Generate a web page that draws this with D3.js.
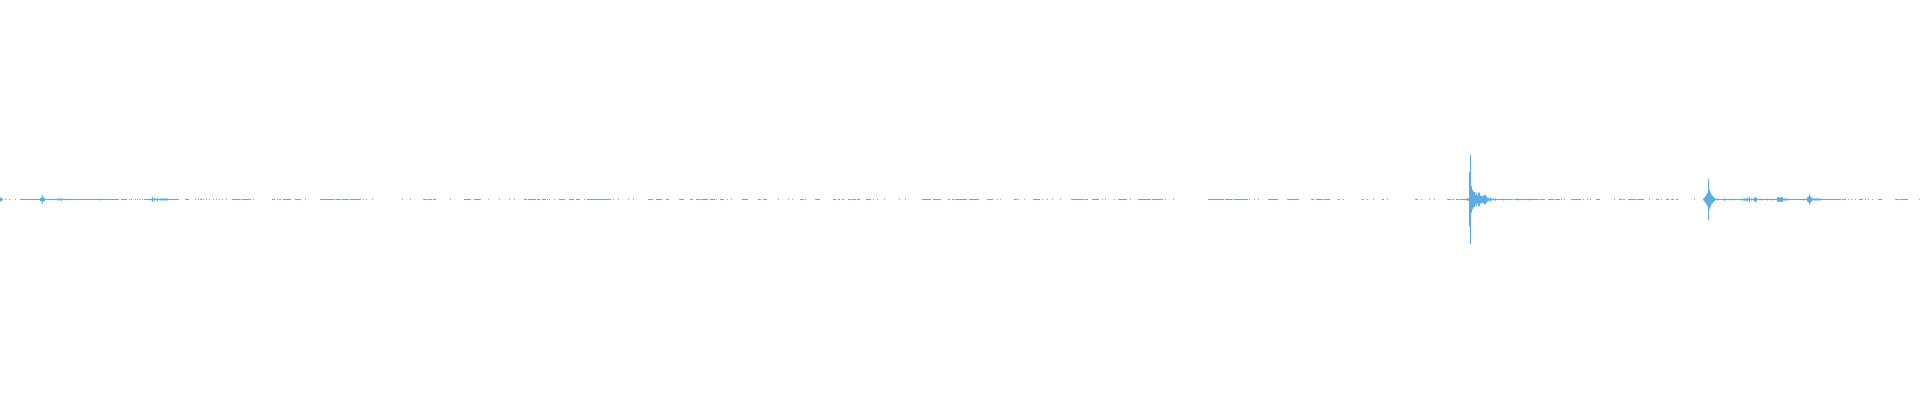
<!DOCTYPE html>
<html>
<head>
<meta charset="utf-8">
<script src="https://cdn.jsdelivr.net/npm/d3@7"></script>
<style>
  html,body{margin:0;padding:0;background:#fff;overflow:hidden;}
  svg{display:block;}
</style>
</head>
<body>
<svg id="wave" width="1920" height="400"></svg>
<script>
// number of samples across the trace
const sampleCount = 1920;

// low-level noise floor amplitude (where the trace is present but quiet)
const floorLevel = 0.012;

// sample ranges [start, end] where the quiet trace is visible
const quietRuns = [
  [0,2],[5,5],[9,9],[15,15],[20,118],[121,126],[129,129],[131,131],[135,135],[137,137],[139,139],[142,142],
  [144,178],[185,188],[195,195],[198,198],
  [200,201],[203,203],[206,206],[209,209],[213,213],[216,216],[219,219],[222,222],[226,226],
  [232,236],[237,240],[242,250],[253,253],
  [272,274],[277,277],[279,280],[283,290],[295,300],[305,305],
  [320,327],[328,333],[335,340],[342,348],[350,360],[363,363],[366,366],[372,372],
  [402,402],[410,410],[423,426],[428,431],[433,435],[450,450],
  [464,470],[474,480],[488,488],[499,499],
  [509,509],[514,514],[524,526],[528,535],[537,539],[542,545],[547,547],[549,549],[554,554],
  [559,564],[569,573],[576,579],[584,584],[587,593],[594,610],[613,613],[618,618],
  [628,628],[633,633],[648,652],[656,661],[666,668],[679,683],
  [690,692],[696,699],[701,707],[710,714],[716,716],[720,723],[727,727],[731,731],
  [742,747],[758,760],[763,766],[778,778],[788,788],[792,792],
  [800,803],[805,805],[815,819],[833,835],[838,839],[842,843],
  [848,850],[852,855],[857,859],[866,867],[868,870],[873,873],[877,877],[884,884],
  [899,899],[905,905],[922,927],[928,930],[933,940],
  [948,949],[952,953],[955,957],[958,966],[969,978],[987,992],[997,997],[1000,1000],
  [1014,1016],[1018,1018],[1024,1024],[1033,1039],[1042,1042],[1047,1047],[1052,1052],[1060,1060],
  [1071,1077],[1078,1083],[1085,1087],[1092,1098],
  [1102,1102],[1105,1105],[1114,1114],[1118,1126],[1130,1130],
  [1138,1150],[1152,1162],[1165,1165],[1173,1173],
  [1208,1212],[1213,1223],[1225,1232],[1234,1247],[1249,1249],[1254,1254],[1258,1258],
  [1268,1277],[1287,1298],
  [1311,1313],[1316,1322],[1324,1329],[1338,1339],[1343,1343],
  [1362,1363],[1367,1367],[1373,1373],[1382,1383],[1387,1387],
  [1415,1417],[1421,1421],[1429,1429],[1434,1434],
  [1447,1450],[1452,1453],[1456,1458],[1460,1468],
  [1470,1512],[1514,1538],[1540,1543],[1544,1544],[1548,1553],[1555,1559],[1561,1561],[1564,1564],
  [1571,1580],[1583,1583],[1587,1587],[1590,1590],[1596,1599],
  [1614,1614],[1619,1621],[1623,1624],[1628,1631],[1632,1635],[1637,1638],[1639,1643],
  [1649,1649],[1656,1657],[1658,1658],[1661,1661],[1666,1668],
  [1671,1673],[1676,1677],[1694,1694],
  [1703,1840],[1842,1845],[1848,1848],[1851,1851],[1855,1855],[1859,1862],[1865,1865],
  [1868,1868],[1872,1872],[1878,1881],[1895,1898],[1900,1907],[1919,1919]
];

// louder samples [sample, amplitude] (amplitude relative to the largest peak)
const bursts = [
  [0,0.04],[1,0.04],
  [40,0.035],[41,0.045],[42,0.097],[43,0.045],[44,0.035],
  [50,0.018],[53,0.018],[56,0.018],[58,0.022],[59,0.022],[61,0.034],[64,0.018],[67,0.018],
  [99,0.022],
  [150,0.022],[152,0.056],[154,0.034],[157,0.034],
  [160,0.022],[161,0.022],[162,0.022],[163,0.022],[164,0.022],[165,0.022],[166,0.022],[167,0.022],
  [1467,0.034],[1468,0.022],
  [1469,0.61],[1470,1.0],[1471,0.30],[1472,0.22],[1473,0.18],[1474,0.17],[1475,0.11],
  [1476,0.15],[1477,0.09],[1478,0.16],[1479,0.15],[1480,0.09],[1481,0.08],[1482,0.07],
  [1483,0.09],[1484,0.11],[1485,0.10],[1486,0.07],[1487,0.045],[1488,0.034],[1489,0.022],
  [1490,0.045],[1491,0.022],[1492,0.022],[1495,0.03],[1503,0.022],[1517,0.022],[1530,0.022],
  [1703,0.022],[1704,0.045],[1705,0.075],[1706,0.11],[1707,0.15],[1708,0.46],[1709,0.22],
  [1710,0.16],[1711,0.11],[1712,0.09],[1713,0.056],[1714,0.034],[1715,0.022],
  [1717,0.022],[1724,0.03],[1729,0.018],[1731,0.018],[1733,0.018],
  [1742,0.03],[1744,0.03],[1746,0.03],[1747,0.045],[1749,0.063],[1751,0.022],[1753,0.022],
  [1754,0.038],[1755,0.06],[1756,0.038],[1761,0.022],[1767,0.022],[1772,0.022],
  [1777,0.052],[1778,0.052],[1779,0.052],[1780,0.052],[1781,0.052],[1782,0.052],
  [1783,0.022],[1784,0.022],[1785,0.022],[1786,0.022],[1787,0.022],
  [1803,0.022],[1807,0.05],[1808,0.067],[1809,0.12],[1810,0.067],[1811,0.05],
  [1812,0.022],[1813,0.022],[1814,0.022],[1815,0.022],[1816,0.022],[1817,0.022],[1818,0.022],[1819,0.022],[1820,0.022]
];

const W = 1920, H = 400;
const color = "#5dade2";

// per-sample amplitude, null = nothing drawn
const amp = new Array(sampleCount).fill(null);
quietRuns.forEach(([a,b])=>{
  for(let i=a;i<=b;i++) amp[i] = floorLevel;
});
bursts.forEach(([i,v])=>{
  amp[i] = Math.max(amp[i]||0, v);
});
const data = amp.map((v,i)=>({i, v})).filter(d=>d.v!==null);

const x = d3.scaleLinear().domain([0, sampleCount]).range([0, W]);
const y = d3.scaleLinear().domain([-1, 1]).range([244, 155]);

const svg = d3.select("#wave");
svg.append("rect").attr("width",W).attr("height",H).attr("fill","#fff");

svg.append("g")
  .selectAll("rect")
  .data(data)
  .enter().append("rect")
  .attr("x", d=>x(d.i))
  .attr("width", d=>x(d.i+1)-x(d.i))
  .attr("y", d=>y(d.v))
  .attr("height", d=>y(-d.v)-y(d.v))
  .attr("fill", color);
</script>
</body>
</html>
